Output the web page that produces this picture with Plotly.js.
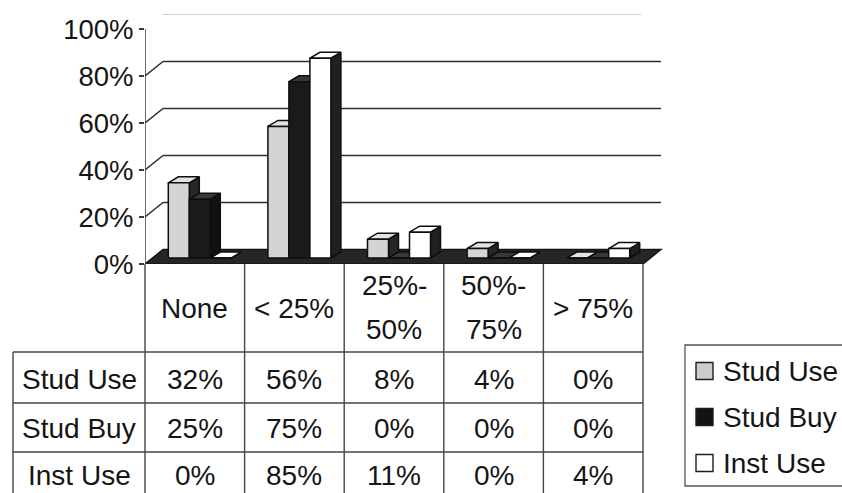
<!DOCTYPE html>
<html>
<head>
<meta charset="utf-8">
<script src="https://cdn.plot.ly/plotly-3.0.1.min.js"></script>
<style>
  html, body { margin: 0; padding: 0; background: #ffffff; }
  #chart { width: 842px; height: 493px; }
</style>
</head>
<body>
<div id="chart"></div>
<script>
// ---- data -------------------------------------------------------------
const categories = ['None', '< 25%', '25%-50%', '50%-75%', '> 75%'];
const headerLines = [['None'], ['< 25%'], ['25%-', '50%'], ['50%-', '75%'], ['> 75%']];
const seriesNames = ['Stud Use', 'Stud Buy', 'Inst Use'];
const studUse = [32, 56, 8, 4, 0];
const studBuy = [25, 75, 0, 0, 0];
const instUse = [0, 85, 11, 0, 4];
const yTickVals = [0, 20, 40, 60, 80, 100];
const yTickText = ['0%', '20%', '40%', '60%', '80%', '100%'];

const seriesValues = [studUse, studBuy, instUse];

// ---- look -------------------------------------------------------------
const FONT = 'Liberation Sans, Arial, Helvetica, sans-serif';
const INK = '#151515';
const seriesStyle = [
  { front: '#d4d4d4', top: '#e2e2e2', side: '#262626', swatch: '#cdcdcd' },
  { front: '#1a1a1a', top: '#383838', side: '#101010', swatch: '#131313' },
  { front: '#ffffff', top: '#ffffff', side: '#202020', swatch: '#ffffff' }
];

// ---- frame geometry (pixels) -----------------------------------------
const W = 842, H = 493;
const L = 145, R = 665, T = 10, B = 264;   // plot area
const COLW = 99.6;                          // pixels per category
const PXY = 2.35;                           // pixels per percent
const ux = p => p / COLW;                   // pixel width -> x units
const uy = p => p / PXY;                    // pixel height -> y units
const xRange = [-0.5, -0.5 + (R - L) / COLW];
const yRange = [0, (B - T) / PXY];
const paperX = px => (px - L) / (R - L);
const paperY = py => (B - py) / (B - T);

// 3-D projection: depth of the back wall, bar placement and bar depth
const BACKX = ux(18), BACKY = uy(14.5);
const FX = ux(5), FY = uy(6);
const BDX = ux(10), BDY = uy(6);
const BW = ux(21);
const nCat = categories.length;
const floorRight = -0.5 + nCat;

// ---- bars as front / top / side faces ---------------------------------
const traces = [];
function face(xs, ys, color) {
  traces.push({
    type: 'scatter', mode: 'lines', x: xs, y: ys,
    fill: 'toself', fillcolor: color,
    line: { color: '#0e0e0e', width: 1.5 },
    hoverinfo: 'skip', showlegend: false
  });
}
categories.forEach((cat, i) => {
  seriesValues.forEach((vals, s) => {
    const st = seriesStyle[s];
    const xl = i - 1.5 * BW + s * BW + FX;
    const xr = xl + BW;
    const yb = FY;
    const yt = FY + vals[i];
    face([xr, xr + BDX, xr + BDX, xr, xr],
         [yb, yb + BDY, yt + BDY, yt, yb], st.side);
    face([xl, xr, xr + BDX, xl + BDX, xl],
         [yt, yt, yt + BDY, yt + BDY, yt], st.top);
    face([xl, xr, xr, xl, xl],
         [yb, yb, yt, yt, yb], st.front);
  });
});

// ---- walls, floor and value axis ---------------------------------------
const shapes = [];
shapes.push({
  type: 'path', xref: 'x', yref: 'y', layer: 'below',
  path: `M${-0.5},0 L${floorRight},0 L${floorRight + BACKX},${BACKY} L${-0.5 + BACKX},${BACKY} Z`,
  fillcolor: '#262626', line: { color: '#141414', width: 1.4 }
});
yTickVals.forEach(v => {
  if (v === 0) return;
  const top = v === yTickVals[yTickVals.length - 1];
  shapes.push({
    type: 'line', xref: 'x', yref: 'y', layer: 'below',
    x0: -0.5 + BACKX, x1: floorRight + BACKX - (top ? ux(20) : 0), y0: v + BACKY, y1: v + BACKY,
    line: { color: top ? '#cfcfcf' : '#2e2e2e', width: top ? 1 : 1.6 }
  });
  if (!top) {
    shapes.push({
      type: 'line', xref: 'x', yref: 'y', layer: 'below',
      x0: -0.5, x1: -0.5 + BACKX, y0: v, y1: v + BACKY,
      line: { color: '#2e2e2e', width: 1.5 }
    });
  }
});
shapes.push({
  type: 'line', xref: 'x', yref: 'y', layer: 'above',
  x0: -0.5, x1: -0.5, y0: 0, y1: yTickVals[yTickVals.length - 1],
  line: { color: '#3a3a3a', width: 1.5 }
});

// ---- data table below the bars -----------------------------------------
const annotations = [];
const TABLE_LINE = { color: '#454545', width: 1.4 };
const rowLabelLeft = 13;
const headerTop = 264, headerBottom = 352;
const rowLines = [352, 403, 452, 503];
const rowCenters = [379, 428, 476];
function hline(x0, x1, y) {
  shapes.push({ type: 'line', xref: 'paper', yref: 'paper',
    x0: paperX(x0), x1: paperX(x1), y0: paperY(y), y1: paperY(y), line: TABLE_LINE });
}
function vline(x, y0, y1) {
  shapes.push({ type: 'line', xref: 'paper', yref: 'paper',
    x0: paperX(x), x1: paperX(x), y0: paperY(y0), y1: paperY(y1), line: TABLE_LINE });
}
const colEdges = [];
for (let k = 0; k <= nCat; k++) colEdges.push(L + k * COLW);
rowLines.forEach(y => hline(rowLabelLeft, colEdges[nCat], y));
colEdges.forEach(x => vline(x, headerTop, H + 10));
vline(rowLabelLeft, headerBottom, H + 10);

function label(text, xref, x, y, anchor) {
  annotations.push({
    text: text, xref: xref, yref: 'paper', x: x, y: paperY(y),
    xanchor: anchor || 'center', yanchor: 'middle', showarrow: false,
    font: { family: FONT, size: 28, color: INK }
  });
}
headerLines.forEach((lines, i) => {
  const mid = (headerTop + headerBottom) / 2;
  if (lines.length === 1) label(lines[0], 'x', i, mid);
  else { label(lines[0], 'x', i, mid - 23); label(lines[1], 'x', i, mid + 21); }
});
seriesNames.forEach((name, s) => {
  label(name, 'paper', paperX((rowLabelLeft + L) / 2), rowCenters[s]);
  seriesValues[s].forEach((v, i) => label(v + '%', 'x', i, rowCenters[s]));
});

// ---- legend --------------------------------------------------------------
shapes.push({ type: 'rect', xref: 'paper', yref: 'paper',
  x0: paperX(685), x1: paperX(870), y0: paperY(345), y1: paperY(486),
  fillcolor: 'rgba(0,0,0,0)', line: { color: '#555555', width: 1.3 } });
const legendRows = [371, 417, 463];
seriesNames.forEach((name, s) => {
  const cy = legendRows[s];
  shapes.push({ type: 'rect', xref: 'paper', yref: 'paper',
    x0: paperX(696), x1: paperX(713), y0: paperY(cy - 8.5), y1: paperY(cy + 8.5),
    fillcolor: seriesStyle[s].swatch, line: { color: '#1e1e1e', width: 1.4 } });
  label(name, 'paper', paperX(721), cy, 'left');
});

// ---- layout ---------------------------------------------------------------
const layout = {
  width: W, height: H,
  margin: { l: L, r: W - R, t: T, b: H - B, pad: 0 },
  paper_bgcolor: '#ffffff', plot_bgcolor: 'rgba(0,0,0,0)',
  showlegend: false,
  font: { family: FONT, color: INK },
  xaxis: { range: xRange, showgrid: false, zeroline: false, showline: false,
           showticklabels: false, ticks: '', fixedrange: true },
  yaxis: { range: yRange, showgrid: false, zeroline: false, showline: false,
           tickmode: 'array', tickvals: yTickVals, ticktext: yTickText,
           ticks: 'outside', ticklen: 5, tickwidth: 1.4, tickcolor: '#3a3a3a',
           tickfont: { family: FONT, size: 27.5, color: INK }, fixedrange: true },
  shapes: shapes,
  annotations: annotations
};

Plotly.newPlot('chart', traces, layout, { staticPlot: true, displayModeBar: false });
</script>
</body>
</html>
